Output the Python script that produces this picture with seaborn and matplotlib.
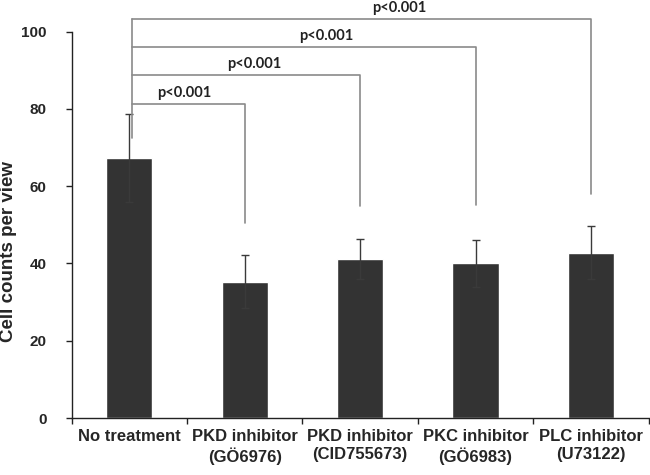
import matplotlib
matplotlib.use("Agg")
import matplotlib.pyplot as plt
import seaborn as sns
import pandas

# Values
categories = [
    "No treatment",
    "PKD inhibitor\n(GÖ6976)",
    "PKD inhibitor\n(CID755673)",
    "PKC inhibitor\n(GÖ6983)",
    "PLC inhibitor\n(U73122)",
]
means = [67.4, 35.3, 41.1, 40.0, 42.8]
errors = [11.4, 6.8, 5.2, 6.2, 6.8]

# Significance brackets: target bar, bracket height, bottom of right leg
bracket_targets = [1, 2, 3, 4]
bracket_heights = [81.4, 88.8, 96.1, 103.4]
bracket_ends = [50.5, 55.0, 55.2, 58.0]
bracket_labels = ["p<0.001", "p<0.001", "p<0.001", "p<0.001"]
# label centres (category units), not quite mid-bracket in the original
bracket_label_x = [0.48, 1.08, 1.71, 2.34]
bracket_left_bottom = 72.4


def main():
    sns.set_style("white")
    plt.rcParams["font.family"] = ["Liberation Sans", "DejaVu Sans"]

    df = pandas.DataFrame({"group": categories, "count": means})

    fig = plt.figure(figsize=(6.5, 4.75), dpi=100)
    ax = fig.add_axes([0.110, 0.12, 0.888, 0.8133])

    sns.barplot(data=df, x="group", y="count", color="#333333", width=0.4,
                saturation=1, ax=ax)
    ax.errorbar(range(len(means)), means, yerr=errors, fmt="none",
                ecolor="#3a3a3a", elinewidth=1.0, capsize=3, capthick=1.0)

    # Brackets
    line_kw = dict(color="#8a8a8a", linewidth=1.2, clip_on=False)
    x0 = 0.025
    ax.plot([x0, x0], [bracket_left_bottom, max(bracket_heights)], **line_kw)
    for target, h, end, label, lx in zip(bracket_targets, bracket_heights,
                                         bracket_ends, bracket_labels,
                                         bracket_label_x):
        ax.plot([x0, target, target], [h, h, end], **line_kw)
        ax.text(lx, h + 1.0, label, ha="center", va="bottom",
                fontsize=10.5, fontweight="bold", family=["Lato", "DejaVu Sans"],
                color="#222222", clip_on=False)

    ax.set_xlim(-0.5, len(categories) - 0.5)
    ax.set_ylim(0, 100)
    ax.set_yticks([0, 20, 40, 60, 80, 100])
    ax.set_yticklabels(["0", "20", "40", "60", "80", "100"], fontsize=11,
                       fontweight="bold")
    ax.set_xticks(range(len(categories)))
    ax.set_xticklabels(categories, fontsize=12, fontweight="bold")
    ax.set_xticks([i - 0.5 for i in range(len(categories) + 1)], minor=True)
    ax.tick_params(axis="x", which="major", length=0, pad=8)
    ax.tick_params(axis="x", which="minor", length=4, width=1, color="#222222",
                   direction="out", bottom=True)
    ax.tick_params(axis="y", length=4, width=1, color="#222222",
                   direction="out", left=True, pad=14)

    ax.set_xlabel("")
    ax.set_ylabel("Cell counts per view", fontsize=13.5, fontweight="bold")
    ax.yaxis.set_label_coords(-0.095, 0.43)

    for side in ["top", "right"]:
        ax.spines[side].set_visible(False)
    for side in ["left", "bottom"]:
        ax.spines[side].set_color("#222222")
        ax.spines[side].set_linewidth(1.0)

    fig.savefig("out.png", dpi=100)


if __name__ == "__main__":
    main()
